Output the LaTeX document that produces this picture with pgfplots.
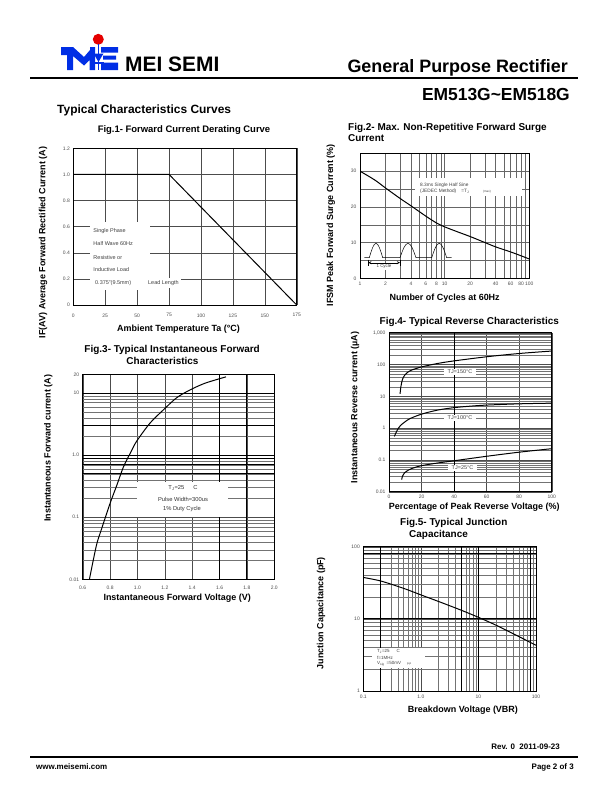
\documentclass[border=0pt]{standalone}
\usepackage{fontspec}
\setmainfont{Liberation Sans}
\usepackage{pgfplots}
\pgfplotsset{compat=1.18}
\newcommand{\tk}{\fontsize{5}{6}\selectfont}
\newcommand{\lab}{\bfseries\fontsize{9}{10}\selectfont}
\newcommand{\ttl}{\bfseries\fontsize{10}{11.6}\selectfont}
\newcommand{\ins}{\fontsize{5.5}{6.5}\selectfont}
\pgfplotsset{
 ds/.style={scale only axis, anchor=south west,
  axis line style={black,line width=0.5pt},
  major tick length=0pt, minor tick length=0pt,
  grid=both,
  major grid style={black!70,line width=0.4pt},
  minor grid style={black!55,line width=0.3pt},
  tick label style={font=\tk, text=black!70},
  /pgf/number format/assume math mode=true,
  label style={font=\lab},
 },
 crv/.style={black, line width=1pt, no marks},
}
\begin{document}
\begin{tikzpicture}
\path[use as bounding box] (0,0) rectangle (612bp,-792bp);

% ---------- Fig.1
\begin{axis}[ds, at={(73.3bp,-305bp)}, width=223.4bp, height=156.7bp,
  xmin=0, xmax=175, ymin=0, ymax=1.2,
  xtick={0,25,50,75,100,125,150,175}, xticklabels={0,25,50,75,100,125,150,175},
  ytick={0,0.2,0.4,0.6,0.8,1.0,1.2}, yticklabels={0,0.2,0.4,0.6,0.8,1.0,1.2},
  grid=major, xticklabel style={yshift=-5bp},
  xlabel={Ambient Temperature Ta (°C)},
  xlabel style={at={(axis description cs:0.471,-0.155)}, anchor=center},
  ylabel={IF(AV) Average Forward Rectified Current (A)},
  ylabel style={at={(axis description cs:-0.135,0.399)}, anchor=center},
]
\addplot[crv] coordinates {(0,1.0) (75,1.0) (175,0)};
\end{axis}

% ---------- Fig.2
\begin{axis}[ds, xmode=log, at={(360bp,-278.3bp)}, width=169.3bp, height=125bp,
  xmin=1, xmax=100, ymin=0, ymax=35,
  xtick={1,2,4,6,8,10,20,40,60,80,100}, xticklabels={1,2,4,6,8,10,20,40,60,80,100},
  minor xtick={3,5,7,9,30,50,70,90},
  ytick={0,10,20,30}, yticklabels={0,10,20,30}, minor ytick={5,15,25,35},
  major grid style={black!60,line width=0.35pt},
  minor grid style={black!60,line width=0.35pt},
  xlabel={Number of Cycles at 60Hz},
  xlabel style={at={(axis description cs:0.5,-0.158)}, anchor=center},
  ylabel={IFSM Peak Forward Surge Current (\%)},
  ylabel style={at={(axis description cs:-0.172,0.426)}, anchor=center},
]
\addplot[crv, smooth] coordinates {(1,30) (1.5,27.5) (2,25.3) (3,22.3) (4,20.3) (6,17.4) (8,15.5) (10,14.4) (15,12.8) (20,11.7) (30,10) (40,8.8) (60,7.4) (80,6.3) (100,5.4)};
\end{axis}

% ---------- Fig.3
\begin{axis}[ds, ymode=log, at={(82.7bp,-579.3bp)}, width=191.6bp, height=205bp,
  xmin=0.6, xmax=2.0, ymin=0.01, ymax=20,
  xtick={0.6,0.8,1.0,1.2,1.4,1.6,1.8,2.0}, xticklabels={0.6,0.8,1.0,1.2,1.4,1.6,1.8,2.0},
  ytick={0.01,0.1,1,10,20}, yticklabels={0.01,0.1,1.0,10,20},
  minor ytick={0.02,0.03,0.04,0.05,0.06,0.07,0.08,0.09,0.2,0.3,0.4,0.5,0.6,0.7,0.8,0.9,2,3,4,5,6,7,8,9},
  extra x ticks={1.6,1.8}, extra x tick labels={},
  extra x tick style={major grid style={black,line width=0.9pt}},
  extra y ticks={10,3,1,0.9,0.7,0.5}, extra y tick labels={},
  extra y tick style={major grid style={black,line width=0.8pt}},
  xticklabel style={yshift=-3bp},
  xlabel={Instantaneous Forward Voltage (V)},
  xlabel style={at={(axis description cs:0.493,-0.093)}, anchor=center},
  ylabel={Instantaneous Forward current (A)},
  ylabel style={at={(axis description cs:-0.18,0.64)}, anchor=center},
]
\addplot[crv, smooth] coordinates {(0.649,0.01) (0.70,0.035) (0.734,0.061) (0.80,0.167) (0.85,0.33) (0.897,0.64) (0.95,1.1) (0.994,1.67) (1.092,3.28) (1.19,5.36) (1.287,8.4) (1.384,11.2) (1.48,14) (1.56,16) (1.647,18.2)};
\end{axis}

% ---------- Fig.4
\begin{axis}[ds, ymode=log, at={(389bp,-491.7bp)}, width=162.7bp, height=159bp,
  xmin=0, xmax=100, ymin=0.01, ymax=1000,
  xtick={0,20,40,60,80,100}, xticklabels={0,20,40,60,80,100},
  ytick={0.01,0.1,1,10,100,1000}, yticklabels={0.01,0.1,1,10,100,{1,000}},
  minor ytick={0.02,0.03,0.04,0.05,0.06,0.07,0.08,0.09,0.2,0.3,0.4,0.5,0.6,0.7,0.8,0.9,2,3,4,5,6,7,8,9,20,30,40,50,60,70,80,90,200,300,400,500,600,700,800,900},
  extra x ticks={40}, extra x tick labels={},
  extra x tick style={major grid style={black,line width=1pt}},
  xlabel={Percentage of Peak Reverse Voltage (\%)},
  xlabel style={at={(axis description cs:0.524,-0.097)}, anchor=center},
  ylabel={Instantaneous Reverse current (µA)},
  ylabel style={at={(axis description cs:-0.209,0.53)}, anchor=center},
]
\addplot[crv, smooth] coordinates {(6.8,12) (7.3,20) (8.2,33) (9.5,45) (11.5,57) (14,67) (20,84) (30,108) (40,130) (60,175) (80,222) (100,265)};
\addplot[crv, smooth] coordinates {(3.3,0.55) (5,0.85) (7,1.2) (10,1.6) (13,2.0) (20,2.75) (30,3.7) (40,4.4) (50,4.9) (60,5.3) (80,5.8) (100,6.1)};
\addplot[crv, smooth] coordinates {(7.8,0.024) (8.3,0.031) (9.5,0.039) (12,0.048) (15,0.056) (20,0.066) (30,0.08) (40,0.094) (60,0.13) (80,0.175) (100,0.225)};
\end{axis}

% ---------- Fig.5
\begin{axis}[ds, xmode=log, ymode=log, at={(363.3bp,-691bp)}, width=172.7bp, height=144.3bp,
  xmin=0.1, xmax=100, ymin=1, ymax=100,
  xtick={0.1,1,10,100}, xticklabels={0.1,1.0,10,100},
  ytick={1,10,100}, yticklabels={1,10,100},
  minor xtick={0.2,0.3,0.4,0.5,0.6,0.7,0.8,0.9,2,3,4,5,6,7,8,9,20,30,40,50,60,70,80,90},
  minor ytick={2,3,4,5,6,7,8,9,20,30,40,50,60,70,80,90},
  extra x ticks={0.2,5,10,80}, extra x tick labels={},
  extra x tick style={major grid style={black,line width=0.9pt}},
  extra y ticks={80,10}, extra y tick labels={},
  extra y tick style={major grid style={black,line width=0.9pt}},
  xlabel={Breakdown Voltage (VBR)},
  xlabel style={at={(axis description cs:0.577,-0.132)}, anchor=center},
  ylabel={Junction Capacitance (pF)},
  ylabel style={at={(axis description cs:-0.245,0.54)}, anchor=center},
]
\addplot[crv, smooth] coordinates {(0.1,37.5) (0.2,33.5) (0.5,26.5) (1,21.5) (2,17.5) (5,13.2) (10,10.5) (20,8.2) (50,5.7) (100,4.3)};
\end{axis}

% ---------- page furniture, titles and insets
\begin{scope}[x=1bp,y=-1bp]
% logo
\fill[red!90!black] (98.3,39.3) circle (5.5);
\fill[blue!80!cyan!90!black] (61,47) -- (73,47) -- (84,57) -- (90,50) -- (90,47) -- (95,47) -- (95,70) -- (89.5,70) -- (89.5,60) -- (84,65.5) -- (73,56) -- (73,70) -- (67,70) -- (67,55) -- (61,55) -- cycle;
\fill[blue!80!cyan!90!black] (93.5,53.5) -- (103.5,53.5) -- (98.5,62) -- cycle;
\draw[blue!80!cyan!90!black, line width=1.2bp] (98.5,44) -- (98.5,70);
\draw[blue!80!cyan!90!black, line width=1.4bp] (93.5,63) -- (103.5,63);
\fill[blue!80!cyan!90!black] (101,47) rectangle (118,52.5) (103,55.5) rectangle (116,59.5) (101,62.5) rectangle (118,70);
\node[anchor=base west, inner sep=0, font=\bfseries\fontsize{21}{21}\selectfont] at (125,71.5) {MEI SEMI};
\node[anchor=base east, inner sep=0, font=\bfseries\fontsize{18}{18}\selectfont] at (568,72) {General Purpose Rectifier};
\draw[line width=1.6bp] (30,78) -- (578,78);
\node[anchor=base east, inner sep=0, font=\bfseries\fontsize{17.5}{17.5}\selectfont] at (570,100) {EM513G\textasciitilde EM518G};
\node[anchor=base west, inner sep=0, font=\bfseries\fontsize{12}{12}\selectfont] at (57,113) {Typical Characteristics Curves};
% footer
\node[anchor=base east, inner sep=0, font=\bfseries\fontsize{8}{8}\selectfont] at (560,749) {Rev. 0\ \ 2011-09-23};
\draw[line width=1.2bp] (30,757) -- (578,757);
\node[anchor=base west, inner sep=0, font=\bfseries\fontsize{8}{8}\selectfont] at (36,769) {www.meisemi.com};
\node[anchor=base east, inner sep=0, font=\bfseries\fontsize{8}{8}\selectfont] at (574,769) {Page 2 of 3};
% titles
\node[font=\bfseries\fontsize{9.5}{11}\selectfont, inner sep=0] at (184,130) {Fig.1- Forward Current Derating Curve};
\node[font=\ttl, inner sep=0, anchor=west, align=left] at (348,132.5) {Fig.2- Max. Non-Repetitive Forward Surge\\Current};
\node[font=\ttl, inner sep=0, anchor=west, align=left] at (84.3,354.7) {Fig.3- Typical Instantaneous Forward\\\hspace*{42bp}Characteristics};
\node[font=\ttl, inner sep=0] at (469.3,321.7) {Fig.4- Typical Reverse Characteristics};
\node[font=\ttl, inner sep=0, anchor=west, align=left] at (400,528.7) {Fig.5- Typical Junction\\\hspace*{9bp}Capacitance};
% Fig.1 inset
\fill[white] (90,222) rectangle (150,290);
\begin{scope}[every node/.style={font=\ins, text=black!75, anchor=west, inner sep=0}]
\node at (93.3,231) {Single Phase};
\node at (93.3,243.3) {Half Wave 60Hz};
\node at (93.3,257.3) {Resistive or};
\node at (93.3,270) {Inductive Load};
\node at (95,283.3) {0.375"(9.5mm)};
\node[fill=white, inner sep=2.5bp] at (145.5,283.3) {Lead Length};
\end{scope}
% Fig.2 inset
\fill[white] (415,178) rectangle (522,196);
\node[font=\fontsize{4.8}{5.5}\selectfont, text=black!75, anchor=west, inner sep=0] at (420,185) {8.3ms Single Half Sine};
\node[font=\fontsize{4.8}{5.5}\selectfont, text=black!75, anchor=west, inner sep=0] at (420,191.7) {(JEDEC Method)\hspace{5bp}=T\textsubscript{J}\hspace{14bp}{\fontsize{3}{3}\selectfont (max)}};
\draw[line width=0.5bp] (364.3,257.7) -- (369.3,257.7) sin (376,243.3) cos (382.7,257.7) -- (400,257.7) sin (408,243.3) cos (416,257.7) -- (431.7,257.7) sin (439.2,243.3) cos (446.7,257.7) -- (451.7,257.7);
\draw[line width=0.4bp] (368.3,259.5) -- (368.3,266) (400,259.5) -- (400,266);
\draw[line width=0.4bp, <->, >=stealth] (368.3,262.7) -- (400,262.7);
\node[font=\fontsize{4.5}{5}\selectfont, text=black!75, fill=white, inner sep=0.8bp] at (384,266.8) {1 Cycle};
% Fig.3 inset
\fill[white] (137.3,481.7) rectangle (228.3,516.7);
\begin{scope}[every node/.style={font=\fontsize{5.8}{6.5}\selectfont, text=black!80, inner sep=0}]
\node at (183,488.3) {T\textsubscript{J}=25\hspace{9bp}C};
\node at (183,499.3) {Pulse Width=300us};
\node at (182,509) {1\% Duty Cycle};
\end{scope}
% Fig.4 labels
\begin{scope}[every node/.style={font=\ins, text=black!75, fill=white, inner xsep=4bp, inner ysep=1bp}]
\node at (460,371.7) {TJ=150°C};
\node at (460,417.7) {TJ=100°C};
\node at (462.5,468) {TJ=25°C};
\end{scope}
% Fig.5 inset
\fill[white] (371.7,648) rectangle (425,668);
\begin{scope}[every node/.style={font=\fontsize{4.5}{5}\selectfont, text=black!75, anchor=west, inner sep=0}]
\node at (377,651.7) {T\textsubscript{J}=25\hspace{7bp}C};
\node at (377,657.7) {f=1MHz};
\node at (377,664) {V\textsubscript{sig}\hspace{2bp}=50mV\hspace{6bp}{\fontsize{3}{3}\selectfont p-p}};
\end{scope}
\end{scope}
\end{tikzpicture}
\end{document}
